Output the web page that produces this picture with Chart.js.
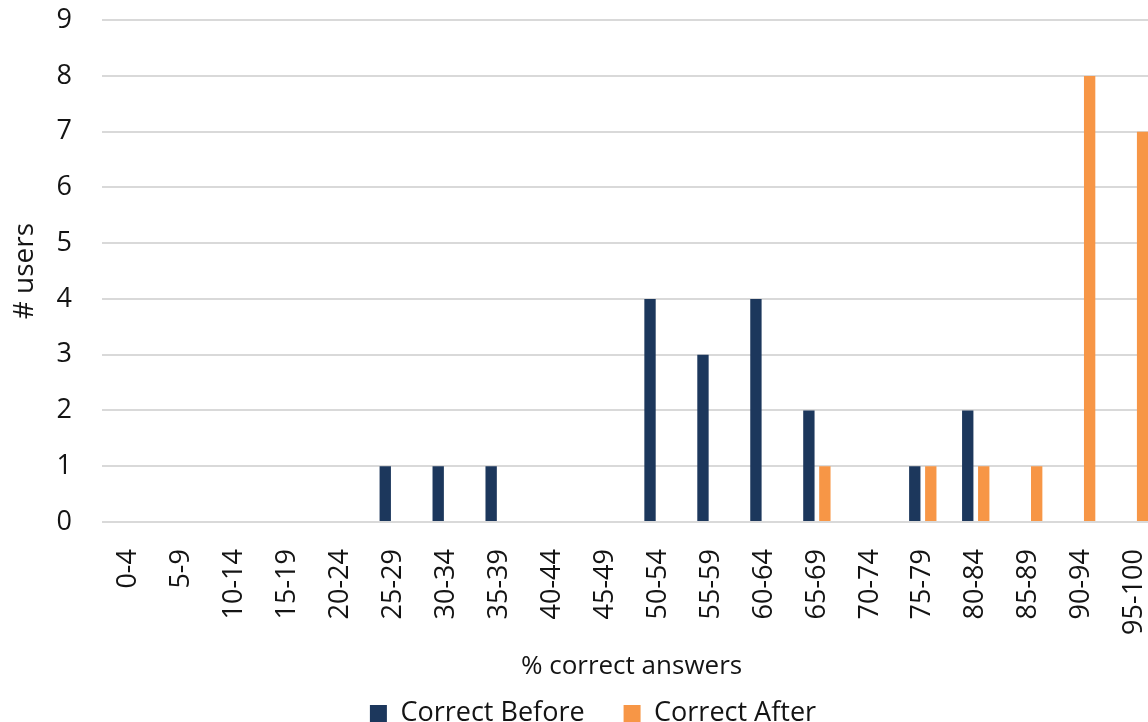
<!DOCTYPE html>
<html>
<head>
<meta charset="utf-8">
<script src="https://cdn.jsdelivr.net/npm/chart.js@4.4.0/dist/chart.umd.min.js"></script>
<style>
  html, body { margin: 0; padding: 0; background: #fff; overflow: hidden; width: 1148px; height: 722px; }
  #wrap { position: absolute; left: 0; top: -26px; width: 1186px; height: 763px; }
</style>
</head>
<body>
<div id="wrap"><canvas id="c"></canvas></div>
<script>
const categories = ["0-4","5-9","10-14","15-19","20-24","25-29","30-34","35-39","40-44","45-49","50-54","55-59","60-64","65-69","70-74","75-79","80-84","85-89","90-94","95-100"];
const correctBefore = [0,0,0,0,0,1,1,1,0,0,4,3,4,2,0,1,2,0,0,0];
const correctAfter  = [0,0,0,0,0,0,0,0,0,0,0,0,0,1,0,1,1,1,8,7];
const yTicks = [0,1,2,3,4,5,6,7,8,9];
const seriesNames = ["Correct Before", "Correct After"];
const xTitle = "% correct answers";
const yTitle = "# users";

const FONT = "'Open Sans', 'Noto Sans', sans-serif";
const TXT = "#141414";
const WEIGHT = 500;

new Chart(document.getElementById('c'), {
  type: 'bar',
  data: {
    labels: categories,
    datasets: [
      { label: seriesNames[0], data: correctBefore, backgroundColor: '#1c375c', borderWidth: 0 },
      { label: seriesNames[1], data: correctAfter, backgroundColor: '#f79646', borderWidth: 0 }
    ]
  },
  options: {
    responsive: true,
    maintainAspectRatio: false,
    animation: false,
    layout: { padding: { top: 6, left: 0, right: 0, bottom: 0 } },
    datasets: { bar: { barPercentage: 0.71, categoryPercentage: 0.604 } },
    plugins: {
      tooltip: { enabled: false },
      legend: {
        position: 'bottom',
        labels: {
          font: { family: FONT, size: 27, weight: WEIGHT },
          color: TXT,
          boxWidth: 17, boxHeight: 17,
          padding: 39
        }
      }
    },
    scales: {
      x: {
        grid: { display: false },
        border: { display: false },
        ticks: {
          font: { family: FONT, size: 27, weight: WEIGHT },
          color: TXT,
          minRotation: 90, maxRotation: 90,
          autoSkip: false,
          padding: 19
        },
        title: {
          display: true, text: xTitle,
          font: { family: FONT, size: 26, weight: WEIGHT },
          color: TXT,
          padding: { top: 0, bottom: -21 }
        },
        afterFit: (s) => { s.height = 139; }
      },
      y: {
        min: 0, max: 9,
        afterBuildTicks: (s) => { s.ticks = yTicks.map(v => ({ value: v })); },
        grid: { color: '#d9d9d9', lineWidth: 2, drawTicks: false },
        border: { display: false },
        ticks: {
          font: { family: FONT, size: 27, weight: WEIGHT },
          color: TXT,
          padding: 30
        },
        title: {
          display: true, text: yTitle,
          font: { family: FONT, size: 28, weight: WEIGHT },
          color: TXT,
          padding: { top: 8, bottom: 0 }
        },
        afterFit: (s) => { s.width = 102; }
      }
    }
  }
});
</script>
</body>
</html>
